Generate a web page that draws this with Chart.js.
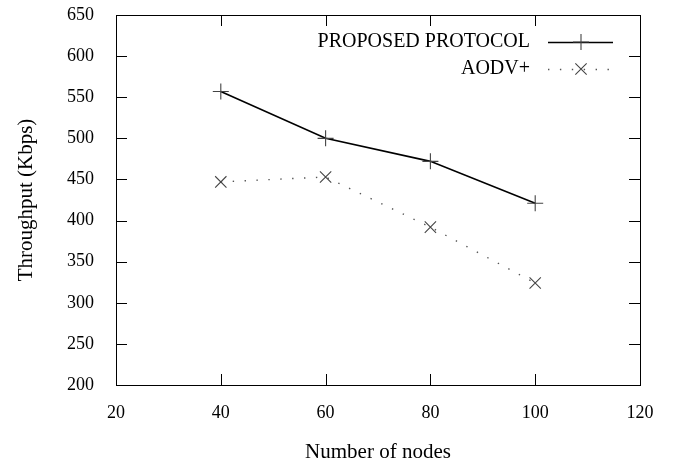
<!DOCTYPE html>
<html>
<head>
<meta charset="utf-8">
<script src="https://cdn.jsdelivr.net/npm/chart.js@4/dist/chart.umd.min.js"></script>
<style>
  html, body { margin: 0; padding: 0; background: #fff; }
  #wrap { width: 673px; height: 461px; }
</style>
</head>
<body>
<div id="wrap"><canvas id="myChart" width="673" height="461"></canvas></div>
<script>
const nodes = [40, 60, 80, 100];
const proposed = [557, 500, 472, 421];
const aodv = [447, 453, 392, 324];
const seriesNames = ["PROPOSED PROTOCOL", "AODV+"];

const FONT = "'Liberation Serif', 'Times New Roman', serif";

// gnuplot-like frame with inward ticks on all four sides, plus the key
const framePlugin = {
  id: "frame",
  afterDatasetsDraw(chart) {
    const { ctx, chartArea: a, scales } = chart;
    const tick = 11;
    ctx.save();
    ctx.strokeStyle = "#000";
    ctx.lineWidth = 1;
    ctx.strokeRect(a.left + 0.5, a.top + 0.5, a.right - a.left, a.bottom - a.top);
    scales.x.ticks.forEach((t) => {
      const px = Math.round(scales.x.getPixelForValue(t.value)) + 0.5;
      ctx.beginPath();
      ctx.moveTo(px, a.bottom);
      ctx.lineTo(px, a.bottom - tick);
      ctx.moveTo(px, a.top);
      ctx.lineTo(px, a.top + tick);
      ctx.stroke();
    });
    scales.y.ticks.forEach((t) => {
      const py = Math.round(scales.y.getPixelForValue(t.value)) + 0.5;
      ctx.beginPath();
      ctx.moveTo(a.left, py);
      ctx.lineTo(a.left + tick, py);
      ctx.moveTo(a.right, py);
      ctx.lineTo(a.right - tick, py);
      ctx.stroke();
    });

    // key
    ctx.font = "20px " + FONT;
    ctx.fillStyle = "#000";
    ctx.textAlign = "right";
    ctx.textBaseline = "middle";
    const textX = 530, x1 = 548, x2 = 613, mid = 581;
    const rows = [42, 69];
    chart.data.datasets.forEach((ds, i) => {
      const y = rows[i];
      ctx.fillText(ds.label, textX, y);
      ctx.strokeStyle = ds.borderColor;
      ctx.lineWidth = ds.borderWidth;
      ctx.setLineDash(ds.borderDash || []);
      ctx.beginPath();
      ctx.moveTo(x1, y + 0.5);
      ctx.lineTo(x2, y + 0.5);
      ctx.stroke();
      ctx.setLineDash([]);
      ctx.strokeStyle = ds.pointBorderColor;
      ctx.lineWidth = 1.1;
      const r = ds.pointRadius;
      ctx.beginPath();
      if (ds.pointStyle === "cross") {
        ctx.moveTo(mid - r, y); ctx.lineTo(mid + r, y);
        ctx.moveTo(mid, y - r); ctx.lineTo(mid, y + r);
      } else {
        const d = r * 0.7071;
        ctx.moveTo(mid - d, y - d); ctx.lineTo(mid + d, y + d);
        ctx.moveTo(mid - d, y + d); ctx.lineTo(mid + d, y - d);
      }
      ctx.stroke();
    });
    ctx.restore();
  },
};

const data = {
  datasets: [
    {
      label: seriesNames[0],
      data: nodes.map((n, i) => ({ x: n, y: proposed[i] })),
      borderColor: "#000",
      borderWidth: 1.6,
      pointStyle: "cross",
      pointRadius: 8,
      pointBorderWidth: 1.1,
      pointBorderColor: "#444",
      pointBackgroundColor: "#444",
      tension: 0,
    },
    {
      label: seriesNames[1],
      data: nodes.map((n, i) => ({ x: n, y: aodv[i] })),
      borderColor: "#555",
      borderWidth: 1.4,
      borderDash: [1.4, 10.5],
      pointStyle: "crossRot",
      pointRadius: 8,
      pointBorderWidth: 1.1,
      pointBorderColor: "#444",
      pointBackgroundColor: "#444",
      tension: 0,
    },
  ],
};

const config = {
  type: "line",
  data: data,
  options: {
    responsive: false,
    animation: false,
    layout: {
      padding: { left: 0, right: 33, top: 15, bottom: 0 },
    },
    plugins: {
      legend: { display: false },
      tooltip: { enabled: false },
    },
    scales: {
      x: {
        type: "linear",
        min: 20,
        max: 120,
        grid: { display: false },
        border: { display: false },
        ticks: {
          stepSize: 20,
          padding: 9,
          color: "#000",
          font: { family: FONT, size: 18 },
        },
        title: {
          display: true,
          text: "Number of nodes",
          color: "#000",
          font: { family: FONT, size: 21 },
          padding: { top: 22, bottom: -4 },
        },
        afterFit: (scale) => {
          scale.height = 76;
        },
      },
      y: {
        min: 200,
        max: 650,
        grid: { display: false },
        border: { display: false },
        ticks: {
          stepSize: 50,
          padding: 14,
          color: "#000",
          font: { family: FONT, size: 18 },
        },
        title: {
          display: true,
          text: "Throughput (Kbps)",
          color: "#000",
          font: { family: FONT, size: 21 },
          padding: { top: 14, bottom: 0 },
        },
        afterFit: (scale) => {
          scale.width = 116;
          scale.paddingTop = 0;
          scale.paddingBottom = 0;
        },
      },
    },
  },
  plugins: [framePlugin],
};

const myChart = new Chart(document.getElementById("myChart").getContext("2d"), config);
</script>
</body>
</html>
